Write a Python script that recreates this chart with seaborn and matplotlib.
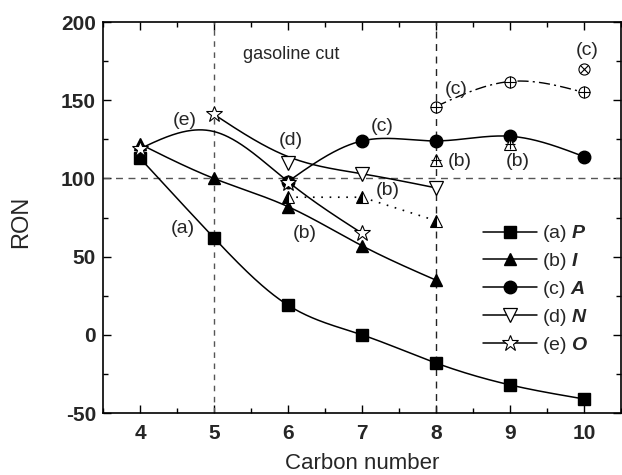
import numpy as np
import pandas as pd
import matplotlib
matplotlib.use("Agg")
import matplotlib.pyplot as plt
import seaborn as sns
from matplotlib.lines import Line2D
from matplotlib.ticker import MultipleLocator

# ---------------- data ----------------
p_x = [4, 5, 6, 7, 8, 9, 10]
p_y = [113, 62, 19, 0, -18, -32, -41]

i_x = [4, 5, 6, 7, 8]
i_y = [122, 100, 82, 57, 35]

a_x = [6, 7, 8, 9, 10]
a_y = [98, 124, 124, 127, 114]

n_x = [6, 7, 8]
n_y = [110, 103, 94]
n_curve_x = [5, 6, 7, 8]
n_curve_y = [141, 114, 103, 94]

o_x = [4, 5, 6, 7]
o_y = [119, 141, 97, 65]
o_curve_x = [4, 5, 6, 7]
o_curve_y = [119, 130, 98, 65]

ib_x = [6, 7, 8]          # branched iso (dotted, half-filled)
ib_y = [88, 88, 73]
ic_x = [8, 9]             # crossed triangles
ic_y = [112, 122]

ab_x = [8, 9, 10]         # crossed circles (dash-dot)
ab_y = [146, 162, 155]
ax_x = [10]               # circle with x
ax_y = [170]

labels = [("(a)", 4.58, 68), ("(b)", 6.23, 65), ("(e)", 4.6, 137),
          ("(d)", 6.04, 124), ("(c)", 7.28, 133), ("(c)", 8.27, 157),
          ("(c)", 10.05, 182), ("(b)", 8.32, 111), ("(b)", 9.1, 111),
          ("(b)", 7.35, 92)]
legend_letters = ["P", "I", "A", "N", "O"]
x_ticks = [4, 5, 6, 7, 8, 9, 10]
y_ticks = [-50, 0, 50, 100, 150, 200]


def spline(x, y, n=300):
    x = np.asarray(x, float)
    y = np.asarray(y, float)
    m = len(x)
    h = np.diff(x)
    A = np.zeros((m, m))
    b = np.zeros(m)
    A[0, 0] = 1
    A[-1, -1] = 1
    for k in range(1, m - 1):
        A[k, k - 1] = h[k - 1]
        A[k, k] = 2 * (h[k - 1] + h[k])
        A[k, k + 1] = h[k]
        b[k] = 3 * ((y[k + 1] - y[k]) / h[k] - (y[k] - y[k - 1]) / h[k - 1])
    c = np.linalg.solve(A, b)
    bb = (y[1:] - y[:-1]) / h - h * (2 * c[:-1] + c[1:]) / 3
    d = (c[1:] - c[:-1]) / (3 * h)
    xs = np.linspace(x[0], x[-1], n)
    idx = np.clip(np.searchsorted(x, xs) - 1, 0, m - 2)
    t = xs - x[idx]
    ys = y[idx] + bb[idx] * t + c[idx] * t ** 2 + d[idx] * t ** 3
    return xs, ys


sns.set_theme(style="ticks")
plt.rcParams["font.family"] = ["Liberation Sans", "DejaVu Sans"]
plt.rcParams["mathtext.fontset"] = "custom"
plt.rcParams["mathtext.bfit"] = "Liberation Sans:bold:italic"
plt.rcParams["axes.unicode_minus"] = False

fig = plt.figure(figsize=(6.22, 4.75), dpi=100)
ax = fig.add_axes([0.1656, 0.1305, 0.8325, 0.823])

# reference lines
ax.axhline(100, color="#555555", lw=1.0, ls=(0, (5, 4)), zorder=1)
ax.axvline(5, color="#555555", lw=1.0, ls=(0, (4, 4)), zorder=1)
ax.axvline(8, color="#222222", lw=1.0, ls=(0, (5, 4)), zorder=1)

# smooth curves
for cx, cy in [(p_x, p_y), (i_x, i_y), (a_x, a_y),
               (n_curve_x, n_curve_y), (o_curve_x, o_curve_y)]:
    xs, ys = spline(cx, cy)
    sns.lineplot(x=xs, y=ys, ax=ax, color="black", lw=1.1, sort=False,
                 estimator=None, zorder=2)
xs, ys = spline(ab_x, ab_y)
sns.lineplot(x=xs, y=ys, ax=ax, color="black", lw=1.0, sort=False,
             estimator=None, zorder=2)
ax.lines[-1].set_linestyle((0, (8, 3, 1.5, 3)))
sns.lineplot(x=ib_x, y=ib_y, ax=ax, color="black", lw=1.2, sort=False,
             estimator=None, zorder=2)
ax.lines[-1].set_linestyle((0, (1, 4)))

ms = 9
ax.plot(p_x, p_y, ls="none", marker="s", ms=ms - 1, color="black", zorder=4)
ax.plot(i_x, i_y, ls="none", marker="^", ms=ms, color="black", zorder=4)
ax.plot(a_x, a_y, ls="none", marker="o", ms=ms, color="black", zorder=4)
ax.plot(n_x, n_y, ls="none", marker="v", ms=ms + 1, mfc="white", mec="black",
        mew=0.9, zorder=4)
ax.plot(o_x, o_y, ls="none", marker="*", ms=ms + 3, mfc="white", mec="black",
        mew=0.8, zorder=5)
ax.plot(ib_x, ib_y, ls="none", marker="^", ms=ms, mfc="black", mfcalt="white",
        fillstyle="left", mec="black", mew=0.8, zorder=4)
ax.plot(ic_x, ic_y, ls="none", marker="^", ms=ms, mfc="white", mec="black",
        mew=0.8, zorder=4)
ax.plot(ic_x, ic_y, ls="none", marker="+", ms=ms - 2, color="black",
        mew=0.8, zorder=5)
ax.plot(ab_x, ab_y, ls="none", marker="o", ms=ms - 1, mfc="white",
        mec="black", mew=0.8, zorder=4)
ax.plot(ab_x, ab_y, ls="none", marker="+", ms=ms - 1, color="black",
        mew=0.8, zorder=5)
ax.plot(ax_x, ax_y, ls="none", marker="o", ms=ms - 1, mfc="white",
        mec="black", mew=0.8, zorder=4)
ax.plot(ax_x, ax_y, ls="none", marker="x", ms=ms - 3, color="black",
        mew=0.8, zorder=5)

for txt, tx, ty in labels:
    ax.text(tx, ty, txt, fontsize=14, ha="center", va="center", zorder=6)
ax.text(6.05, 179, "gasoline cut", fontsize=13, ha="center", va="center")

handles = [
    Line2D([], [], color="black", marker="s", ms=ms - 1, lw=1.1),
    Line2D([], [], color="black", marker="^", ms=ms, lw=1.1),
    Line2D([], [], color="black", marker="o", ms=ms, lw=1.1),
    Line2D([], [], color="black", marker="v", ms=ms + 1, mfc="white", lw=1.1,
           mew=0.9),
    Line2D([], [], color="black", marker="*", ms=ms + 3, mfc="white", lw=1.1,
           mew=0.8),
]
names = ["(" + c + ") " + r"$\mathbfit{" + l + "}$"
         for c, l in zip("abcde", legend_letters)]
leg = ax.legend(handles, names, loc="upper left",
                bbox_to_anchor=(0.734, 0.485),
                frameon=False, fontsize=14, handlelength=2.75,
                handletextpad=0.3, labelspacing=0.35, borderaxespad=0,
                borderpad=0)

ax.set_xlim(3.5, 10.5)
ax.set_ylim(-50, 200)
ax.set_xticks(x_ticks)
ax.set_yticks(y_ticks)
ax.xaxis.set_minor_locator(MultipleLocator(0.5))
ax.yaxis.set_minor_locator(MultipleLocator(25))
ax.tick_params(which="both", direction="in", top=True, right=True,
               labeltop=False, labelright=False, color="black")
ax.tick_params(which="major", length=6, width=1.0, labelsize=15)
ax.tick_params(axis="x", which="major", pad=8)
ax.tick_params(axis="y", which="major", pad=5)
ax.tick_params(which="minor", length=3.5, width=1.0)
for lab in ax.get_xticklabels() + ax.get_yticklabels():
    lab.set_fontweight("bold")
for s in ax.spines.values():
    s.set_linewidth(1.2)
    s.set_color("black")
ax.set_xlabel("Carbon number", fontsize=16)
ax.set_ylabel("RON", fontsize=17)
ax.xaxis.set_label_coords(0.5, -0.103)
ax.yaxis.set_label_coords(-0.137, 0.49)

fig.savefig("out.png", dpi=100)
